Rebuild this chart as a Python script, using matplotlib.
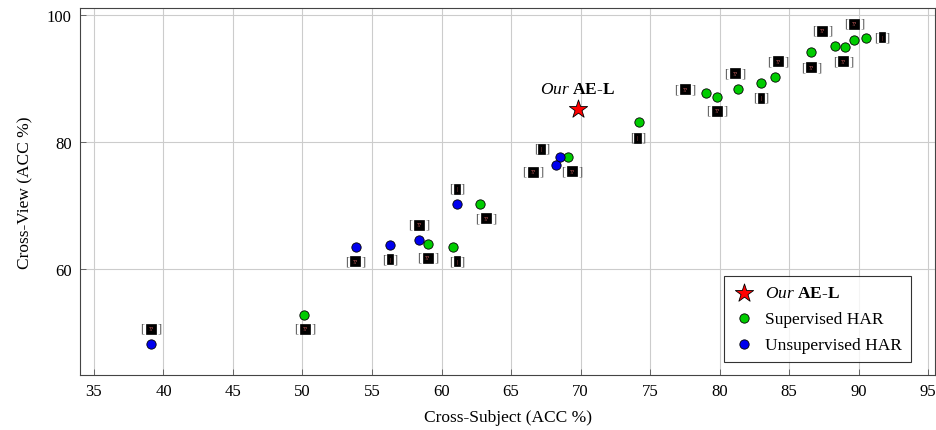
import matplotlib
matplotlib.use("Agg")
import matplotlib.pyplot as plt
import numpy as np

plt.rcParams['font.family'] = ['Liberation Serif', 'DejaVu Serif']
plt.rcParams['mathtext.fontset'] = 'custom'
plt.rcParams['mathtext.rm'] = 'Liberation Serif'
plt.rcParams['mathtext.it'] = 'Liberation Serif:italic'
plt.rcParams['mathtext.bf'] = 'Liberation Serif:bold'

# Supervised HAR (groen)
sup_x = [50.1, 59.0, 60.8, 62.8, 69.1, 74.2, 79.0, 79.8, 81.3, 83.0, 84.0, 86.6, 88.3, 89.0, 89.7, 90.5]
sup_y = [52.8, 64.0, 63.4, 70.3, 77.6, 83.1, 87.7, 87.1, 88.3, 89.3, 90.2, 94.2, 95.1, 95.0, 96.1, 96.4]
# Unsupervised HAR (blau)
uns_x = [39.1, 53.85, 56.3, 58.4, 61.1, 68.5, 68.2]
uns_y = [48.2, 63.5, 63.8, 64.6, 70.2, 77.7, 76.4]
# unsere Methode
our_x = [69.8]
our_y = [85.2]

# kaputte Zitate [?] neben den Punkten
cite_x = [39.1, 50.2, 53.8, 56.3, 58.4, 59.0, 61.1, 61.1, 63.2, 67.2, 66.6, 69.4, 74.1,
          77.5, 79.8, 81.1, 83.0, 84.2, 86.6, 87.4, 88.9, 89.7, 91.7]
cite_y = [50.6, 50.6, 61.2, 61.5, 67.0, 61.8, 61.2, 72.6, 68.0, 78.9, 75.3, 75.4, 80.7,
          88.3, 84.9, 90.8, 87.0, 92.7, 91.8, 97.5, 92.7, 98.6, 96.5]
cite_w = [2, 2, 2, 1, 2, 2, 1, 1, 2, 1, 2, 2, 1,
          2, 2, 2, 1, 2, 2, 2, 2, 2, 1]

label_our = r"$\mathit{Our}$ $\mathbf{AE}$" + "-" + r"$\mathbf{L}$"

fig = plt.figure(figsize=(9.36, 4.31), dpi=100)
ax = fig.add_axes([0.0855, 0.1276, 0.9135, 0.8514])

ax.set_xlim(34.0, 95.5)
ax.set_ylim(43.3, 101.1)
ax.set_xticks(np.arange(35, 96, 5))
ax.set_yticks([60, 80, 100])
ax.grid(True, color='#cccccc', linewidth=0.8)
ax.set_axisbelow(True)
ax.tick_params(direction='in', labelsize=12, length=4, width=0.6, colors='#555555',
               labelcolor='black', pad=6)
for s in ax.spines.values():
    s.set_color('#444444')
    s.set_linewidth(0.8)

ax.scatter(our_x, our_y, marker='*', s=190, c='red', edgecolors='black', linewidths=0.6,
           zorder=4, label=label_our)
ax.scatter(sup_x, sup_y, marker='o', s=45, c='#00cc00', edgecolors='black', linewidths=0.6,
           zorder=3, label='Supervised HAR')
ax.scatter(uns_x, uns_y, marker='o', s=45, c='#0000ee', edgecolors='black', linewidths=0.6,
           zorder=3, label='Unsupervised HAR')

ax.text(our_x[0], our_y[0] + 1.9, label_our, ha='center', va='bottom', fontsize=12.5)

for x, y, w in zip(cite_x, cite_y, cite_w):
    off = 6.2 if w == 2 else 4.2
    ax.annotate('[', (x, y), xytext=(-off, 0), textcoords='offset points',
                ha='center', va='center', fontsize=9, color='#555555', zorder=5)
    ax.annotate(']', (x, y), xytext=(off, 0), textcoords='offset points',
                ha='center', va='center', fontsize=9, color='#555555', zorder=5)
    if w == 2:
        ax.text(x, y, '??', ha='center', va='center', fontsize=4, color='#ff7777', zorder=6,
                bbox=dict(boxstyle='square,pad=0.45', facecolor='black', edgecolor='black', linewidth=0.5))
    else:
        ax.text(x, y, '|', ha='center', va='center', fontsize=4.5, color='#ff7777', zorder=6,
                bbox=dict(boxstyle='square,pad=0.4', facecolor='black', edgecolor='black', linewidth=0.5))

leg = ax.legend(loc='lower right', bbox_to_anchor=(0.972, 0.035), fontsize=12.5, frameon=True,
                fancybox=False, edgecolor='black', borderpad=0.55, handletextpad=0.6,
                handlelength=1.2, labelspacing=0.55, scatterpoints=1, borderaxespad=0)
leg.get_frame().set_linewidth(0.8)

ax.set_xlabel('Cross-Subject (ACC %)', fontsize=12.5, labelpad=7)
ax.set_ylabel('Cross-View (ACC %)', fontsize=12.5, labelpad=10)

fig.savefig('out.png', dpi=100)
